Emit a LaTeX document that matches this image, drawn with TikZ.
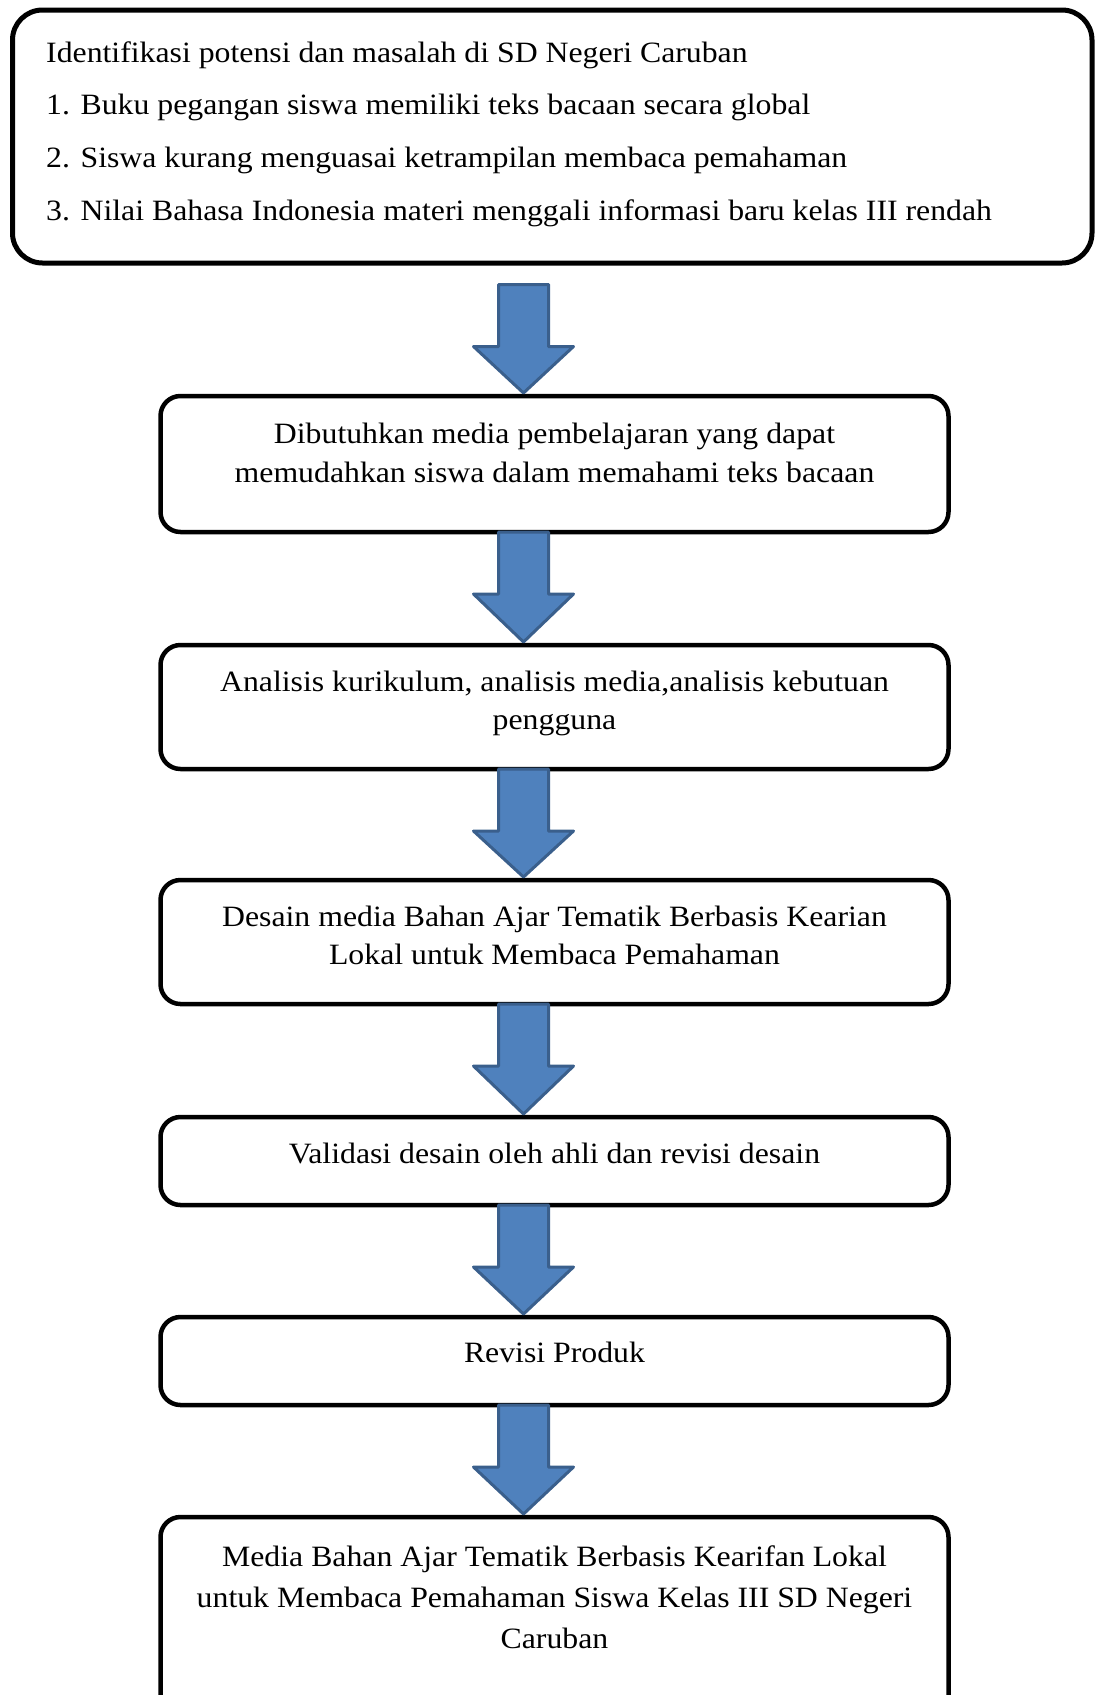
\documentclass[tikz,border=0pt]{standalone}
\usepackage{fontspec}
\setmainfont{Liberation Serif}[FakeStretch=1.077]
\usetikzlibrary{calc}
\definecolor{arrfill}{HTML}{4F81BD}
\definecolor{arrdraw}{HTML}{3A5F8C}
\newcommand\flowarrow[3]{%
  \draw[blockarr] ($(#1.south -| ax)+(-25,#3)$) -- ($(#1.south -| ax)+(25,#3)$)
    -- ($(#1.south -| ax)+(25,#3+62)$) -- ($(#1.south -| ax)+(50,#3+62)$)
    -- ($(#2.north -| ax)+(0,-3)$)
    -- ($(#1.south -| ax)+(-50,#3+62)$) -- ($(#1.south -| ax)+(-25,#3+62)$) -- cycle;}
\begin{document}
\begin{tikzpicture}[x=1pt,y=-1pt,
  flowbox/.style={draw=black, line width=4.5pt, rounded corners=20pt, outer sep=0pt, inner sep=0pt, anchor=north west},
  bigbox/.style={flowbox, line width=5pt, rounded corners=30pt},
  txt/.style={inner sep=0pt, font=\fontsize{29.5}{38}\selectfont, anchor=base},
  ltxt/.style={inner sep=0pt, font=\fontsize{29.5}{38}\selectfont, anchor=base west},
  blockarr/.style={fill=arrfill, draw=arrdraw, line width=3pt, line join=round}]
\useasboundingbox (0,0) rectangle (1095,1695);
\clip (0,0) rectangle (1095,1695);
\coordinate (ax) at (523.5,0);
% boxes
\node[bigbox, minimum width=1079.5pt, minimum height=253pt] (b1) at (12.5,10) {};
\node[flowbox, minimum width=788pt, minimum height=136pt] (b2) at (160.5,396) {};
\node[flowbox, minimum width=788pt, minimum height=124pt] (b3) at (160.5,645) {};
\node[flowbox, minimum width=788pt, minimum height=124pt] (b4) at (160.5,880) {};
\node[flowbox, minimum width=788pt, minimum height=88pt] (b5) at (160.5,1117) {};
\node[flowbox, minimum width=788pt, minimum height=88pt] (b6) at (160.5,1317) {};
\node[flowbox, minimum width=788pt, minimum height=260pt] (b7) at (160.5,1517) {};
% texts
\node[ltxt] (t1a) at (46,62) {Identifikasi potensi dan masalah di SD Negeri Caruban};
\node[ltxt] (t1b) at (46,114) {1. Buku pegangan siswa memiliki teks bacaan secara global};
\node[ltxt] (t1c) at (46,167) {2. Siswa kurang menguasai ketrampilan membaca pemahaman};
\node[ltxt] (t1d) at (46,220) {3. Nilai Bahasa Indonesia materi menggali informasi baru kelas III rendah};
\node[txt] (t2a) at ($(b2.north)+(0,47)$) {Dibutuhkan media pembelajaran yang dapat};
\node[txt] (t2b) at ($(b2.north)+(0,86)$) {memudahkan siswa dalam memahami teks bacaan};
\node[txt] (t3a) at ($(b3.north)+(0,46)$) {Analisis kurikulum, analisis media,analisis kebutuan};
\node[txt] (t3b) at ($(b3.north)+(0,84)$) {pengguna};
\node[txt] (t4a) at ($(b4.north)+(0,46)$) {Desain media Bahan Ajar Tematik Berbasis Kearian};
\node[txt] (t4b) at ($(b4.north)+(0,84)$) {Lokal untuk Membaca Pemahaman};
\node[txt] (t5) at ($(b5.north)+(0,46)$) {Validasi desain oleh ahli dan revisi desain};
\node[txt] (t6) at ($(b6.north)+(0,45)$) {Revisi Produk};
\node[txt] (t7a) at ($(b7.north)+(0,49)$) {Media Bahan Ajar Tematik Berbasis Kearifan Lokal};
\node[txt] (t7b) at ($(b7.north)+(0,90)$) {untuk Membaca Pemahaman Siswa Kelas III SD Negeri};
\node[txt] (t7c) at ($(b7.north)+(0,131)$) {Caruban};
% arrows
\flowarrow{b1}{b2}{21.5}
\flowarrow{b2}{b3}{0}
\flowarrow{b3}{b4}{0}
\flowarrow{b4}{b5}{0}
\flowarrow{b5}{b6}{0}
\flowarrow{b6}{b7}{0}
\end{tikzpicture}
\end{document}
